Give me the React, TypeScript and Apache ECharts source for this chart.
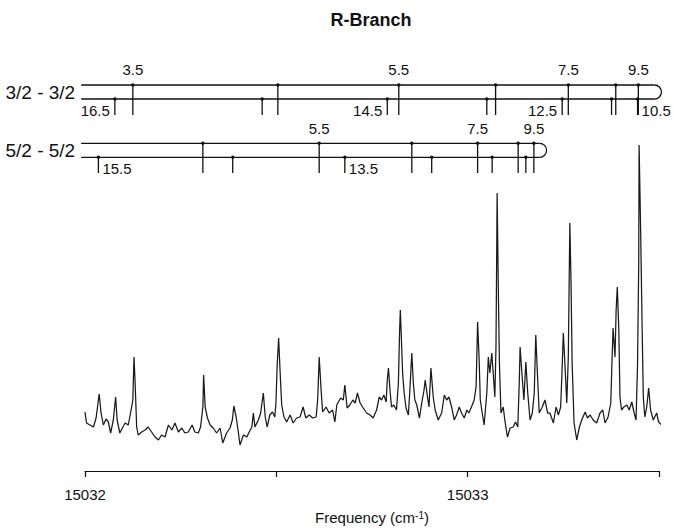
import React, { useEffect, useRef } from 'react';
import * as echarts from 'echarts';

const FONT = '"Liberation Sans", Arial, Helvetica, sans-serif';
const INK = '#111111';

// ---- spectrum: [frequency offset from BASE_FREQ (cm-1), intensity (arb. units)] ----
const BASE_FREQ = 15032;
const specA: [number, number][] = [
  [0.000, 59], [0.004, 48], [0.013, 46], [0.022, 44], [0.029, 53], [0.037, 77], [0.042, 58], [0.048, 46],
  [0.055, 52], [0.061, 49], [0.067, 38], [0.074, 51], [0.080, 74], [0.084, 51], [0.091, 38], [0.099, 44],
  [0.105, 48], [0.113, 46], [0.119, 58], [0.125, 71], [0.128, 114], [0.131, 88], [0.135, 44], [0.139, 36],
  [0.148, 39], [0.157, 41], [0.165, 44], [0.174, 39], [0.183, 34], [0.192, 31], [0.200, 36], [0.209, 34],
  [0.218, 46], [0.227, 41], [0.235, 48], [0.244, 39], [0.253, 43], [0.261, 38], [0.270, 39], [0.280, 46],
  [0.287, 39], [0.296, 38], [0.302, 44], [0.308, 64], [0.310, 96], [0.314, 64], [0.320, 53], [0.327, 46],
  [0.335, 43], [0.344, 38], [0.353, 43], [0.360, 28], [0.370, 38], [0.379, 43], [0.385, 51], [0.389, 65],
  [0.395, 54], [0.401, 38], [0.405, 26], [0.414, 36], [0.423, 34], [0.429, 39], [0.436, 44], [0.440, 58],
  [0.444, 44], [0.453, 51], [0.459, 58], [0.466, 78], [0.471, 54], [0.476, 44], [0.483, 56], [0.490, 59],
  [0.496, 54],
];
const specB: [number, number][] = [
  [0.499, 68], [0.502, 104], [0.506, 133], [0.510, 98], [0.514, 66], [0.520, 54], [0.527, 49], [0.536, 56],
  [0.544, 48], [0.553, 53], [0.562, 54], [0.570, 64], [0.577, 53], [0.586, 56], [0.595, 53], [0.604, 54],
  [0.608, 71], [0.612, 114], [0.617, 81], [0.621, 59], [0.630, 64], [0.638, 58], [0.647, 61], [0.653, 49],
  [0.658, 66], [0.668, 73], [0.675, 71], [0.679, 86], [0.685, 63], [0.692, 66], [0.700, 71], [0.706, 68],
  [0.712, 78], [0.719, 68], [0.727, 63], [0.736, 58], [0.745, 56], [0.753, 53], [0.762, 61], [0.769, 74],
  [0.775, 71], [0.781, 76], [0.787, 69], [0.790, 91], [0.793, 103], [0.797, 81], [0.801, 64], [0.807, 66],
  [0.814, 61], [0.819, 88], [0.822, 138], [0.824, 161], [0.826, 141], [0.830, 98], [0.834, 78], [0.839, 63],
  [0.845, 56], [0.849, 81], [0.854, 118], [0.858, 88], [0.862, 71], [0.867, 66], [0.874, 53], [0.880, 68],
  [0.886, 81], [0.889, 91],
];
const specC: [number, number][] = [
  [0.895, 74], [0.899, 64], [0.904, 103], [0.910, 74], [0.915, 61], [0.923, 51], [0.932, 58], [0.939, 76],
  [0.945, 71], [0.951, 74], [0.958, 64], [0.965, 51], [0.971, 56], [0.978, 64], [0.984, 58], [0.991, 53],
  [0.998, 61], [1.003, 58], [1.010, 64], [1.017, 71], [1.022, 84], [1.026, 149], [1.030, 111], [1.033, 71],
  [1.038, 58], [1.043, 46], [1.050, 78], [1.054, 114], [1.058, 98], [1.063, 118], [1.068, 91], [1.071, 74],
  [1.074, 124], [1.076, 224], [1.077, 278], [1.080, 184], [1.083, 108], [1.087, 58], [1.093, 64], [1.097, 51],
  [1.104, 34], [1.111, 43], [1.119, 44], [1.125, 49], [1.131, 44], [1.135, 91], [1.137, 124], [1.143, 91],
  [1.147, 71], [1.152, 109], [1.157, 78], [1.163, 51], [1.169, 58], [1.174, 78], [1.178, 136], [1.183, 91],
  [1.187, 58], [1.195, 64], [1.202, 71], [1.209, 58],
];
const specD: [number, number][] = [
  [1.215, 58], [1.224, 48], [1.231, 64], [1.237, 56], [1.243, 64], [1.246, 94], [1.250, 138], [1.254, 108],
  [1.259, 68], [1.263, 114], [1.267, 248], [1.270, 191], [1.273, 108], [1.278, 48], [1.285, 31], [1.292, 44],
  [1.298, 51], [1.307, 59], [1.313, 53], [1.320, 56], [1.328, 51], [1.337, 48], [1.346, 58], [1.353, 61],
  [1.359, 48], [1.367, 54], [1.374, 68], [1.377, 108], [1.380, 143], [1.385, 114], [1.388, 161], [1.391, 184],
  [1.395, 141], [1.398, 74], [1.402, 61], [1.408, 64], [1.416, 66], [1.422, 61], [1.429, 69], [1.435, 58],
  [1.440, 51], [1.444, 108], [1.447, 208], [1.448, 326], [1.452, 241], [1.456, 141], [1.459, 74], [1.463, 54],
  [1.468, 64], [1.473, 83], [1.478, 61], [1.485, 51], [1.494, 58], [1.499, 49], [1.507, 46],
];

// ---- axis ----
const X_MIN = 15032;
const X_MAX = 15033.5;
const X_STEP = 0.5;
const X_LABELS = [15032, 15033];

// ---- assignment ladders ----
const ladderNames = ['3/2 - 3/2', '5/2 - 5/2'];
const ladderStartFreq = [15031.99, 15031.99];
const ladderEndFreq = [15033.488, 15033.188];

const ladder32UpperFreq = [15032.125, 15032.504, 15032.820, 15033.073, 15033.263, 15033.387, 15033.446];
const ladder32UpperJ = ['3.5', '4.5', '5.5', '6.5', '7.5', '8.5', '9.5'];
const ladder32LowerFreq = [15032.078, 15032.463, 15032.790, 15033.050, 15033.247, 15033.376, 15033.444];
const ladder32LowerJ = ['16.5', '15.5', '14.5', '13.5', '12.5', '11.5', '10.5'];
const ladder32Shown: Record<string, string> = {
  '3.5': 'top', '5.5': 'top', '7.5': 'top', '9.5': 'top',
  '16.5': 'left', '14.5': 'left', '12.5': 'left', '10.5': 'right',
};

const ladder52UpperFreq = [15032.308, 15032.612, 15032.854, 15033.026, 15033.132, 15033.173];
const ladder52UpperJ = ['4.5', '5.5', '6.5', '7.5', '8.5', '9.5'];
const ladder52LowerFreq = [15032.035, 15032.386, 15032.679, 15032.906, 15033.064, 15033.152];
const ladder52LowerJ = ['15.5', '14.5', '13.5', '12.5', '11.5', '10.5'];
const ladder52Shown: Record<string, string> = {
  '5.5': 'top', '7.5': 'top', '9.5': 'top', '15.5': 'right', '13.5': 'right',
};

// vertical placement of the ladders (intensity units of the hidden y axis)
const Y_MAX = 411;
const LADDER_LAYOUT = [
  { upper: 386, lower: 372, bottom: 356, labelTop: 402, labelLow: 361 },
  { upper: 327.7, lower: 313.7, bottom: 298, labelTop: 343, labelLow: 302.7 },
];

type Tick = { freq: number; ladder: number; level: number; label: string; side: string };

function buildTicks(): Tick[] {
  const out: Tick[] = [];
  const add = (freqs: number[], js: string[], ladder: number, level: number, shown: Record<string, string>) => {
    freqs.forEach((f, i) => {
      const j = js[i];
      const side = shown[j] && ((level === 0) === (shown[j] === 'top')) ? shown[j] : '';
      out.push({ freq: f, ladder, level, label: side ? j : '', side });
    });
  };
  add(ladder32UpperFreq, ladder32UpperJ, 0, 0, ladder32Shown);
  add(ladder32LowerFreq, ladder32LowerJ, 0, 1, ladder32Shown);
  add(ladder52UpperFreq, ladder52UpperJ, 1, 0, ladder52Shown);
  add(ladder52LowerFreq, ladder52LowerJ, 1, 1, ladder52Shown);
  return out;
}

export default function App() {
  const ref = useRef<HTMLDivElement>(null);

  useEffect(() => {
    document.body.style.margin = '0';
    if (!ref.current) return;
    const chart = echarts.init(ref.current, undefined, { renderer: 'svg' });

    const spectrum = [...specA, ...specB, ...specC, ...specD].map(([d, v]) => [BASE_FREQ + d, v]);
    const ticks = buildTicks();

    const option: any = {
      animation: false,
      backgroundColor: '#ffffff',
      grid: { left: 85, right: 14, top: 60, bottom: 60, containLabel: false },
      graphic: [
        {
          type: 'text',
          x: 371,
          y: 20,
          style: {
            text: 'R-Branch',
            align: 'center',
            verticalAlign: 'middle',
            fontSize: 18,
            fontWeight: 'bold',
            fontFamily: FONT,
            fill: INK,
          },
        },
      ],
      xAxis: {
        type: 'value',
        min: X_MIN,
        max: X_MAX,
        interval: X_STEP,
        splitLine: { show: false },
        axisLine: { show: true, onZero: false, lineStyle: { color: INK, width: 1.2 } },
        axisTick: { show: true, inside: false, length: 6, lineStyle: { color: INK, width: 1.2 } },
        axisLabel: {
          margin: 16,
          fontSize: 15,
          fontFamily: FONT,
          color: INK,
          showMaxLabel: true,
          formatter: (v: number) => (X_LABELS.some((l) => Math.abs(l - v) < 1e-6) ? String(Math.round(v)) : ''),
        },
        name: 'Frequency (cm{sup|-1})',
        nameLocation: 'middle',
        nameGap: 39,
        nameTextStyle: {
          fontSize: 15,
          fontFamily: FONT,
          color: INK,
          rich: {
            sup: { fontSize: 10, fontFamily: FONT, color: INK, verticalAlign: 'top', lineHeight: 10 },
          },
        },
      },
      yAxis: { type: 'value', min: 0, max: Y_MAX, show: false },
      series: [
        {
          type: 'line',
          data: spectrum,
          showSymbol: false,
          symbol: 'none',
          clip: false,
          silent: true,
          lineStyle: { color: '#1a1a1a', width: 1.25 },
        },
        {
          type: 'custom',
          silent: true,
          clip: false,
          data: ladderNames.map((_, i) => [ladderStartFreq[i], i, ladderEndFreq[i]]),
          encode: { x: 0 },
          renderItem: (params: any, api: any) => {
            const i = params.dataIndex;
            const L = LADDER_LAYOUT[i];
            const a1 = api.coord([ladderStartFreq[i], L.upper]);
            const a2 = api.coord([ladderEndFreq[i], L.upper]);
            const b1 = api.coord([ladderStartFreq[i], L.lower]);
            const b2 = api.coord([ladderEndFreq[i], L.lower]);
            const r = (b2[1] - a2[1]) / 2;
            const stroke = { stroke: INK, lineWidth: 1.3, fill: 'none' };
            return {
              type: 'group',
              children: [
                { type: 'line', shape: { x1: a1[0], y1: a1[1], x2: a2[0], y2: a2[1] }, style: stroke },
                { type: 'line', shape: { x1: b1[0], y1: b1[1], x2: b2[0], y2: b2[1] }, style: stroke },
                {
                  type: 'arc',
                  shape: { cx: a2[0], cy: a2[1] + r, r, startAngle: -Math.PI / 2, endAngle: Math.PI / 2, clockwise: true },
                  style: stroke,
                },
                {
                  type: 'text',
                  x: a1[0] - 6,
                  y: a1[1] + r,
                  style: {
                    text: ladderNames[i],
                    align: 'right',
                    verticalAlign: 'middle',
                    fontSize: 19,
                    fontFamily: FONT,
                    fill: INK,
                  },
                },
              ],
            };
          },
        },
        {
          type: 'custom',
          silent: true,
          clip: false,
          data: ticks.map((t) => [t.freq, t.ladder, t.level]),
          encode: { x: 0 },
          renderItem: (params: any, api: any) => {
            const t = ticks[params.dataIndex];
            const L = LADDER_LAYOUT[t.ladder];
            const top = api.coord([t.freq, t.level === 0 ? L.upper : L.lower]);
            const bot = api.coord([t.freq, L.bottom]);
            const children: any[] = [
              { type: 'line', shape: { x1: top[0], y1: top[1], x2: bot[0], y2: bot[1] }, style: { stroke: INK, lineWidth: 1.3 } },
              { type: 'circle', shape: { cx: top[0], cy: top[1], r: 1.7 }, style: { fill: INK } },
            ];
            if (t.label) {
              const ly = api.coord([t.freq, t.side === 'top' ? L.labelTop : L.labelLow])[1];
              const lx = t.side === 'left' ? top[0] - 5 : t.side === 'right' ? top[0] + 4 : top[0];
              children.push({
                type: 'text',
                x: lx,
                y: ly,
                style: {
                  text: t.label,
                  align: t.side === 'left' ? 'right' : t.side === 'right' ? 'left' : 'center',
                  verticalAlign: 'middle',
                  fontSize: 15,
                  fontFamily: FONT,
                  fill: INK,
                },
              });
            }
            return { type: 'group', children };
          },
        },
      ],
    };

    chart.setOption(option);
    return () => chart.dispose();
  }, []);

  return <div ref={ref} style={{ width: 673, height: 531 }} />;
}
